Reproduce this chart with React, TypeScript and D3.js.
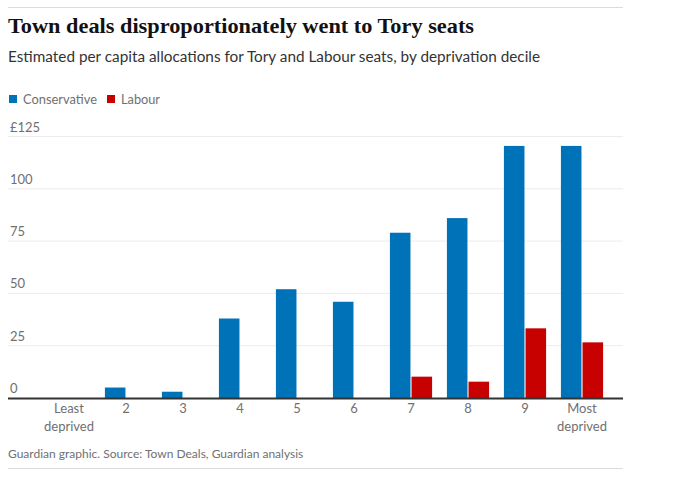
import { useEffect, useRef } from 'react';
import * as d3 from 'd3';

const categories = ['1', '2', '3', '4', '5', '6', '7', '8', '9', '10'];
const categoryLabels = [
  ['Least', 'deprived'],
  ['2'],
  ['3'],
  ['4'],
  ['5'],
  ['6'],
  ['7'],
  ['8'],
  ['9'],
  ['Most', 'deprived'],
];
const conservative = [0, 5, 3, 38, 52, 46, 79, 86, 120.5, 120.5];
const labour = [0, 0, 0, 0, 0, 0, 10.2, 7.8, 33.3, 26.6];
const seriesNames = ['Conservative', 'Labour'];
const seriesColors = ['#0072b8', '#c70000'];
const yTicks = [0, 25, 50, 75, 100, 125];

const SANS = 'Lato, "Open Sans", sans-serif';
const W = 680;
const H = 477;

export default function App() {
  const svgRef = useRef<SVGSVGElement>(null);

  useEffect(() => {
    if (!svgRef.current) return;
    const svg = d3.select(svgRef.current);
    svg.selectAll('*').remove();

    const left = 8;
    const right = 623;
    const zeroY = 398;

    // top rule
    svg.append('line')
      .attr('x1', left).attr('x2', right)
      .attr('y1', 7.5).attr('y2', 7.5)
      .attr('stroke', '#dcdcdc').attr('stroke-width', 1);

    svg.append('text')
      .attr('x', left).attr('y', 33)
      .attr('font-family', '"Liberation Serif", serif')
      .attr('font-weight', 700)
      .attr('font-size', 22)
      .attr('fill', '#121212')
      .attr('textLength', 466)
      .attr('lengthAdjust', 'spacingAndGlyphs')
      .text('Town deals disproportionately went to Tory seats');

    svg.append('text')
      .attr('x', left).attr('y', 62)
      .attr('font-family', SANS)
      .attr('font-size', 15.5)
      .attr('fill', '#333')
      .attr('textLength', 532)
      .attr('lengthAdjust', 'spacingAndGlyphs')
      .text('Estimated per capita allocations for Tory and Labour seats, by deprivation decile');

    // legend
    const legendX = [9, 107];
    const legendLen = [74, 39];
    seriesNames.forEach((name, i) => {
      svg.append('rect')
        .attr('x', legendX[i]).attr('y', 95)
        .attr('width', 8).attr('height', 8)
        .attr('fill', seriesColors[i]);
      svg.append('text')
        .attr('x', legendX[i] + 14).attr('y', 103.5)
        .attr('font-family', SANS)
        .attr('font-size', 13)
        .attr('fill', '#707070')
        .attr('textLength', legendLen[i])
        .attr('lengthAdjust', 'spacingAndGlyphs')
        .text(name);
    });

    // scales
    const y = d3.scaleLinear().domain([0, 125]).range([zeroY, 136.5]);
    const x = d3.scaleBand()
      .domain(categories)
      .range([40.5, 610.5])
      .paddingInner(0.26)
      .paddingOuter(0.13);
    const xSub = d3.scaleBand().domain(seriesNames).range([0, x.bandwidth()]).paddingInner(0.05);

    // gridlines + y labels
    yTicks.forEach((t) => {
      if (t > 0) {
        svg.append('line')
          .attr('x1', left).attr('x2', right)
          .attr('y1', y(t)).attr('y2', y(t))
          .attr('stroke', '#ececec').attr('stroke-width', 1);
      }
      svg.append('text')
        .attr('x', 10).attr('y', y(t) - 5)
        .attr('font-family', SANS)
        .attr('font-size', 13)
        .attr('fill', '#707070')
        .text(t === 125 ? '£125' : String(t));
    });

    // bars
    const seriesData = [conservative, labour];
    seriesData.forEach((vals, si) => {
      svg.append('g')
        .selectAll('rect')
        .data(vals.map((v, i) => ({ v, c: categories[i] })).filter((d) => d.v > 0))
        .join('rect')
        .attr('x', (d) => (x(d.c) || 0) + (xSub(seriesNames[si]) || 0))
        .attr('y', (d) => y(d.v))
        .attr('width', xSub.bandwidth())
        .attr('height', (d) => zeroY - y(d.v))
        .attr('fill', seriesColors[si]);
    });

    // zero axis
    svg.append('line')
      .attr('x1', left).attr('x2', right)
      .attr('y1', zeroY + 0.5).attr('y2', zeroY + 0.5)
      .attr('stroke', '#333').attr('stroke-width', 2);

    // x labels
    categories.forEach((c, i) => {
      const cx = (x(c) || 0) + x.bandwidth() / 2;
      const t = svg.append('text')
        .attr('text-anchor', 'middle')
        .attr('font-family', SANS)
        .attr('font-size', 13)
        .attr('fill', '#707070');
      categoryLabels[i].forEach((line, li) => {
        t.append('tspan').attr('x', cx).attr('y', 413 + li * 18).text(line);
      });
    });

    // source
    svg.append('text')
      .attr('x', left).attr('y', 458)
      .attr('font-family', SANS)
      .attr('font-size', 12)
      .attr('fill', '#707070')
      .text('Guardian graphic. Source: Town Deals, Guardian analysis');

    svg.append('line')
      .attr('x1', left).attr('x2', right)
      .attr('y1', 468.5).attr('y2', 468.5)
      .attr('stroke', '#dcdcdc').attr('stroke-width', 1);
  }, []);

  return (
    <svg
      ref={svgRef}
      width={W}
      height={H}
      style={{ position: 'absolute', left: 0, top: 0, background: '#fff' }}
    />
  );
}
